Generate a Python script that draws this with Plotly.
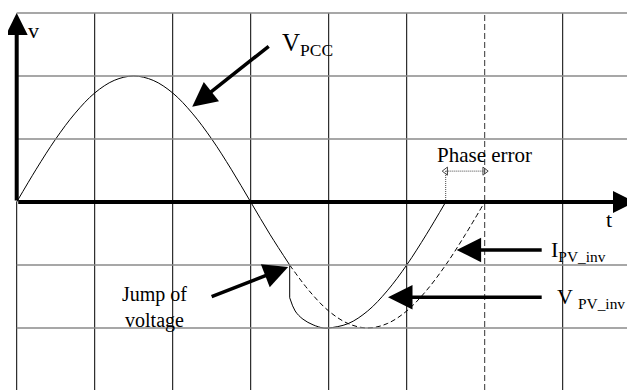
import plotly.graph_objects as go

# V_PCC (solid), grid units
vpcc_x = [0, 0.25, 0.5, 0.75, 1.0, 1.25, 1.5, 1.75, 2.0, 2.25, 2.5, 2.75, 3.0, 3.25, 3.5]
vpcc_y = [0, 0.52, 1.0, 1.41, 1.73, 1.93, 2.0, 1.93, 1.73, 1.41, 1.0, 0.52, 0, -0.52, -1.0]

# jump of voltage at t = 3.5
jump_x = [3.5, 3.5]
jump_y = [-1.0, -1.52]

# V_PV_inv after the jump (solid)
vinv_x = [3.5, 3.57, 3.67, 3.8, 3.93, 4.0, 4.25, 4.5, 4.75, 5.0, 5.25, 5.5]
vinv_y = [-1.52, -1.73, -1.86, -1.95, -2.0, -2.0, -1.93, -1.73, -1.41, -1.0, -0.52, 0]

# I_PV_inv (dashed) follows the old waveform
iinv_x = [3.5, 3.75, 4.0, 4.25, 4.5, 4.75, 5.0, 5.25, 5.5, 5.75, 6.0]
iinv_y = [-1.0, -1.41, -1.73, -1.93, -2.0, -1.93, -1.73, -1.41, -1.0, -0.52, 0]

grid_x = [1, 2, 3, 4, 5, 7]
grid_y = [3, 2, 1, -1, -2]
phase_x = [5.5, 6.0]
phase_y = 0.49

# page has an 8px body margin, so the figure is a little smaller
x_rng = [-0.1115, 7.927]
y_rng = [-2.984, 3.079]

fig = go.Figure()

shapes = []
for gx in grid_x:
    shapes.append(dict(type="line", x0=gx, x1=gx, y0=y_rng[0], y1=3,
                       line=dict(color="black", width=1)))
shapes.append(dict(type="line", x0=0, x1=0, y0=y_rng[0], y1=0,
                   line=dict(color="black", width=1)))
shapes.append(dict(type="line", x0=6, x1=6, y0=y_rng[0], y1=3,
                   line=dict(color="#333", width=1, dash="6px,3px")))
for gy in grid_y:
    shapes.append(dict(type="line", x0=0, x1=x_rng[1], y0=gy, y1=gy,
                       line=dict(color="#8a8a8a", width=1.5)))
# phase error markers
shapes.append(dict(type="line", x0=phase_x[0], x1=phase_x[0], y0=0, y1=phase_y,
                   line=dict(color="#444", width=1, dash="1px,1px")))
shapes.append(dict(type="line", x0=phase_x[0], x1=phase_x[1], y0=phase_y, y1=phase_y,
                   line=dict(color="#444", width=1, dash="1px,1px")))

fig.add_trace(go.Scatter(x=vpcc_x, y=vpcc_y, mode="lines", line=dict(color="black", width=1, shape="spline")))
fig.add_trace(go.Scatter(x=jump_x, y=jump_y, mode="lines", line=dict(color="black", width=1)))
fig.add_trace(go.Scatter(x=vinv_x, y=vinv_y, mode="lines", line=dict(color="black", width=1, shape="spline")))
fig.add_trace(go.Scatter(x=iinv_x, y=iinv_y, mode="lines", line=dict(color="black", width=1, dash="5px,3px", shape="spline")))
fig.add_trace(go.Scatter(x=phase_x, y=[phase_y, phase_y], mode="markers",
                         marker=dict(symbol=["triangle-left-open", "triangle-right-open"], size=7,
                                     color="#444", line=dict(width=1))))

font = dict(family="Liberation Serif", color="black")
ann = []


def arrow(x, y, ax, ay, width=3.5, size=1.4):
    ann.append(dict(x=x, y=y, ax=ax, ay=ay, xref="x", yref="y", axref="x", ayref="y",
                    text="", showarrow=True, arrowhead=2, arrowsize=size,
                    arrowwidth=width, arrowcolor="black", standoff=0, startstandoff=0))


# axes
arrow(0, 3.0, 0, 0, width=4, size=1.1)
arrow(x_rng[1], 0, 0, 0, width=4, size=1.1)
# pointers
arrow(2.25, 1.51, 3.25, 2.49)
arrow(3.48, -1.03, 2.48, -1.51)
arrow(5.64, -0.76, 6.75, -0.76)
arrow(4.76, -1.51, 6.75, -1.51)

ann += [
    dict(x=0.22, y=2.72, text="v", font=dict(size=22, **font)),
    dict(x=7.6, y=-0.28, text="t", font=dict(size=22, **font)),
    dict(x=3.38, y=2.5, text="V<sub>PCC</sub>", xanchor="left", font=dict(size=25, **font)),
    dict(x=6.0, y=0.75, text="Phase error", font=dict(size=21, **font)),
    dict(x=1.77, y=-1.67, text="Jump of<br>voltage", font=dict(size=20, **font)),
    dict(x=6.83, y=-0.78, text="I<sub>PV_inv</sub>", xanchor="left", font=dict(size=22, **font)),
    dict(x=6.9, y=-1.53, text="V <sub>PV_inv</sub>", xanchor="left", font=dict(size=22, **font)),
]
for a in ann:
    a.setdefault("xref", "x")
    a.setdefault("yref", "y")
    a.setdefault("showarrow", False)

fig.update_layout(
    width=627, height=382, margin=dict(l=0, r=0, t=0, b=0),
    plot_bgcolor="white", paper_bgcolor="white", showlegend=False,
    xaxis=dict(range=x_rng, visible=False),
    yaxis=dict(range=y_rng, visible=False),
    shapes=shapes, annotations=ann,
)

fig.write_html("out.html")
